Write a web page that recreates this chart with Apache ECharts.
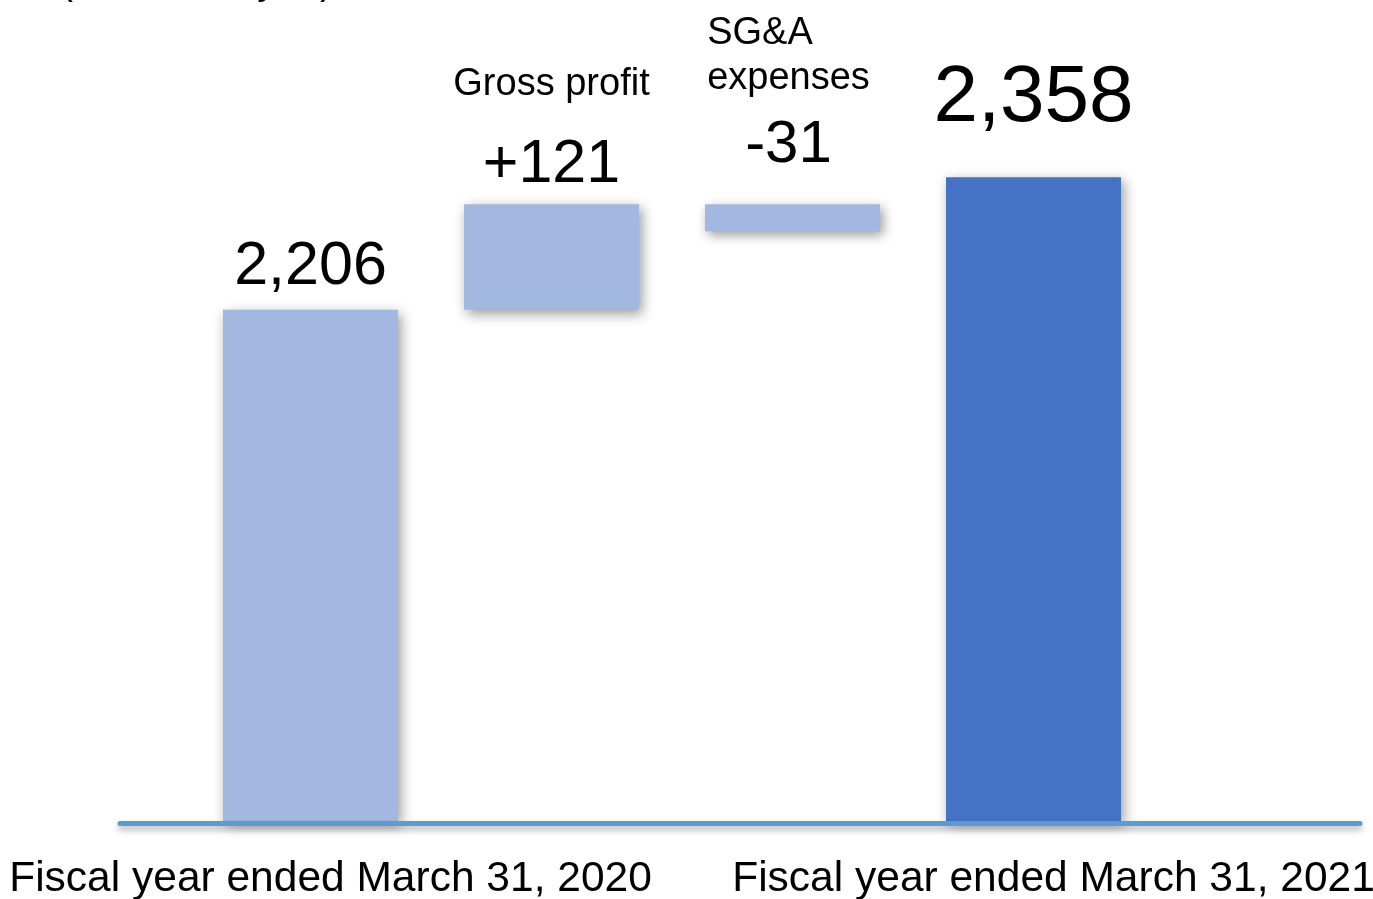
<!DOCTYPE html>
<html>
<head>
<meta charset="utf-8">
<title>Operating income bridge</title>
<script src="https://cdn.jsdelivr.net/npm/echarts@6/dist/echarts.min.js"></script>
<style>
  html, body { margin: 0; padding: 0; background: #ffffff; }
  #chart { width: 1373px; height: 899px; }
</style>
</head>
<body>
<div id="chart"></div>
<script>
// Bridge steps, left to right: opening total, changes, closing total
const categories = [
  'Fiscal year ended March 31, 2020',
  'Gross profit',
  'SG&A\nexpenses',
  'Fiscal year ended March 31, 2021'
];
const stepValues = [2206, 121, -31, 2358];
const stepKinds = ['total', 'change', 'change', 'total'];
const unitLabel = '(Millions of yen)';

const FONT = "'Liberation Sans', Arial, Helvetica, sans-serif";
const LIGHT = '#A2B8E1';
const DARK = '#4472C4';

// Build the invisible base and visible segment for each step
const baseData = [];
const segData = [];
let running = 0;
stepValues.forEach((v, i) => {
  if (stepKinds[i] === 'total') {
    running = v;
    baseData.push(0);
    segData.push({ value: v, raw: v });
  } else {
    const next = running + v;
    baseData.push(Math.min(running, next));
    segData.push({ value: Math.abs(v), raw: v });
    running = next;
  }
});

function valueText(i) {
  const v = stepValues[i];
  if (stepKinds[i] === 'total') return v.toLocaleString('en-US');
  return (v > 0 ? '+' : '') + v;
}

// Per-bar label layouts
const labelCfg = [
  { fontSize: 61, distance: 12 },
  {
    distance: 8,
    rich: {
      n: { fontSize: 38, lineHeight: 100, fontFamily: FONT, color: '#000', align: 'center' },
      v: { fontSize: 61, lineHeight: 62, fontFamily: FONT, color: '#000', align: 'center' }
    }
  },
  {
    distance: 15,
    rich: {
      n: { fontSize: 38, lineHeight: 45, fontFamily: FONT, color: '#000', align: 'left' },
      v: { fontSize: 60, lineHeight: 88, fontFamily: FONT, color: '#000', align: 'center' }
    }
  },
  { fontSize: 80, distance: 38 }
];

const seriesData = segData.map((d, i) => {
  const cfg = labelCfg[i];
  let label;
  if (stepKinds[i] === 'change') {
    const nameLines = categories[i].split('\n').map(s => '{n|' + s + '}');
    label = {
      show: true,
      position: 'top',
      distance: cfg.distance,
      offset: i === 2 ? [-4, 0] : [0, 0],
      formatter: nameLines.join('\n') + '\n{v|' + valueText(i) + '}',
      rich: cfg.rich
    };
  } else {
    label = {
      show: true,
      position: 'top',
      distance: cfg.distance,
      fontSize: cfg.fontSize,
      fontFamily: FONT,
      color: '#000',
      formatter: valueText(i)
    };
  }
  return {
    value: d.value,
    itemStyle: { color: i === stepValues.length - 1 ? DARK : LIGHT },
    label: label
  };
});

const chart = echarts.init(document.getElementById('chart'), null, { renderer: 'canvas' });

chart.setOption({
  backgroundColor: '#ffffff',
  animation: false,
  graphic: [
    {
      type: 'text',
      x: 60,
      y: -36,
      style: { text: unitLabel, font: '39px ' + FONT, fill: '#000', verticalAlign: 'top', textVerticalAlign: 'top' }
    }
  ],
  grid: [
    { left: 190, right: 219, top: 1, bottom: 78, outerBoundsMode: 'none', containLabel: false },
    { left: 120, right: 13, top: 700, bottom: 75.5, outerBoundsMode: 'none', containLabel: false }
  ],
  xAxis: [
    {
      type: 'category',
      gridIndex: 0,
      data: categories,
      axisLine: { show: false },
      axisTick: { show: false },
      axisLabel: {
        interval: 0,
        margin: 37,
        formatter: (val, idx) => stepKinds[idx] === 'total' ? '{c|' + val + '}' : '',
        rich: {
          c: { fontSize: 42.5, lineHeight: 43, fontFamily: FONT, color: '#000', padding: [0, 0, 0, 40] }
        }
      }
    },
    {
      type: 'value',
      gridIndex: 1,
      min: 0,
      max: 1,
      z: 10,
      axisLine: {
        show: true,
        onZero: false,
        lineStyle: {
          color: '#5B9BD5',
          width: 5,
          shadowColor: 'rgba(0,0,0,0.3)',
          shadowBlur: 6,
          shadowOffsetY: 4
        }
      },
      axisTick: { show: false },
      axisLabel: { show: false },
      splitLine: { show: false }
    }
  ],
  yAxis: [
    { type: 'value', gridIndex: 0, min: 1620, max: 2560, show: false, splitLine: { show: false } },
    { type: 'value', gridIndex: 1, min: 0, max: 1, show: false, splitLine: { show: false } }
  ],
  series: [
    {
      name: 'base',
      type: 'bar',
      stack: 'bridge',
      barWidth: 175,
      silent: true,
      itemStyle: { color: 'rgba(0,0,0,0)' },
      emphasis: { disabled: true },
      data: baseData
    },
    {
      name: 'step',
      type: 'bar',
      stack: 'bridge',
      barWidth: 175,
      itemStyle: {
        shadowColor: 'rgba(0,0,0,0.4)',
        shadowBlur: 12,
        shadowOffsetX: 3,
        shadowOffsetY: 4
      },
      emphasis: { disabled: true },
      data: seriesData
    }
  ]
});
</script>
</body>
</html>
